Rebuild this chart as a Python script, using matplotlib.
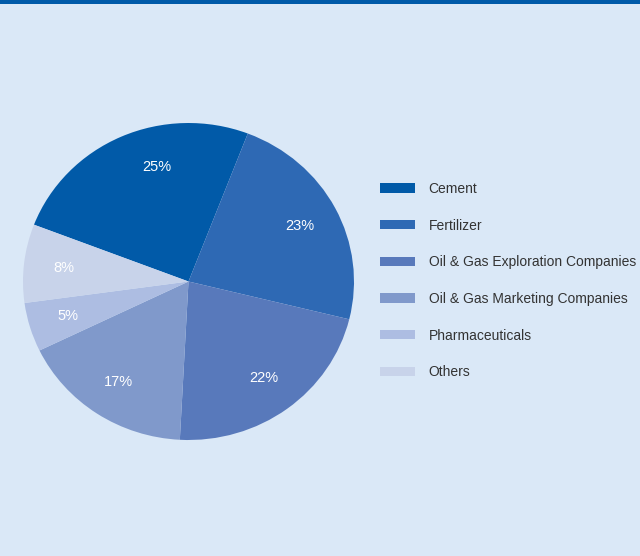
import matplotlib.pyplot as plt
from matplotlib.patches import Rectangle

sectors = ['Cement', 'Fertilizer', 'Oil & Gas Exploration Companies',
           'Oil & Gas Marketing Companies', 'Pharmaceuticals', 'Others']
shares = [25, 23, 22, 17, 5, 8]
colors = ['#015aa8', '#2e69b4', '#5879bb', '#8099cb', '#adbde2', '#c8d3ea']

bg = '#dae8f7'
plt.rcParams['font.family'] = ['Liberation Sans', 'DejaVu Sans']

fig = plt.figure(figsize=(6.4, 5.56), dpi=100, facecolor=bg)

# dark strip along the top edge
fig.patches.append(Rectangle((0, 1 - 4 / 556), 1, 4 / 556, transform=fig.transFigure,
                             facecolor='#005aa9', edgecolor='none'))

ax = fig.add_axes([23 / 640, 116 / 556, 331 / 640, 317 / 556])
ax.set_facecolor(bg)
wedges, texts, autotexts = ax.pie(shares, colors=colors, startangle=159, counterclock=False,
                                  autopct='%d%%', pctdistance=0.76,
                                  wedgeprops=dict(linewidth=0),
                                  textprops=dict(color='white', fontsize=10.5))
ax.set_aspect('auto')
ax.set_xlim(-1, 1)
ax.set_ylim(-1, 1)
# the cement label sits left of its wedge's middle in the original
autotexts[0].set_position((-0.19, 0.72))

fig.legend(wedges, sectors, loc='upper left', bbox_to_anchor=(380 / 640, 1 - 182 / 556),
           frameon=False, fontsize=10, handlelength=2.5, handleheight=0.65,
           handletextpad=1.0, labelspacing=1.63, borderaxespad=0, borderpad=0,
           labelcolor='#333333')

plt.savefig('out.png', dpi=100, facecolor=bg)
